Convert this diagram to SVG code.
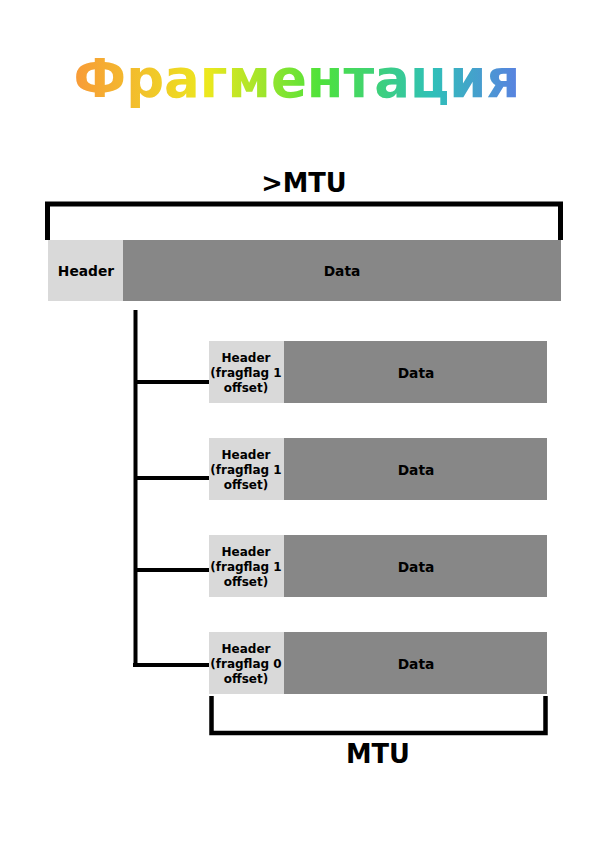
<svg xmlns="http://www.w3.org/2000/svg" width="595" height="842" viewBox="0 0 595 842">
<defs>
<linearGradient id="tg" x1="73" y1="0" x2="522" y2="0" gradientUnits="userSpaceOnUse">
<stop offset="0" stop-color="#f89a38"/>
<stop offset="0.3" stop-color="#ece81e"/>
<stop offset="0.55" stop-color="#4ee23a"/>
<stop offset="0.8" stop-color="#2fc0b8"/>
<stop offset="1" stop-color="#5b7fe2"/>
</linearGradient>
</defs>
<style>
text{font-family:"DejaVu Sans",Verdana,sans-serif;font-weight:bold;fill:#000;text-anchor:middle}
.h{fill:#d9d9d9}
.d{fill:#878787}
.lbl{font-size:13.8px}
.sm{font-size:12px}
.big{font-size:25.7px}
.ln{stroke:#000;stroke-width:5;fill:none}
</style>
<rect width="595" height="842" fill="#fff"/>
<text x="297" y="97" font-size="53" style="fill:url(#tg)">Фрагментация</text>
<g id="top-bracket">
<path class="ln" d="M47.5 240V204H560.5V240"/>
<text class="big" x="304" y="192">&gt;MTU</text>
</g>
<g id="packet">
<rect class="h" x="48" y="240" width="75" height="61"/>
<rect class="d" x="123" y="240" width="438" height="61"/>
<text class="lbl" x="86" y="276">Header</text>
<text class="lbl" x="342" y="276">Data</text>
</g>
<g id="connectors">
<path class="ln" d="M135.5 310V665M135.5 382H209M135.5 478H209M135.5 570H209M133 665H209" style="stroke-width:4"/>
</g>
<g id="frag1">
<rect class="h" x="209" y="341" width="75" height="62"/>
<rect class="d" x="284" y="341" width="263" height="62"/>
<text class="sm" x="246" y="362">Header</text>
<text class="sm" x="246" y="377">(fragflag 1</text>
<text class="sm" x="246" y="392">offset)</text>
<text class="lbl" x="416" y="378">Data</text>
</g>
<g id="frag2">
<rect class="h" x="209" y="438" width="75" height="62"/>
<rect class="d" x="284" y="438" width="263" height="62"/>
<text class="sm" x="246" y="459">Header</text>
<text class="sm" x="246" y="474">(fragflag 1</text>
<text class="sm" x="246" y="489">offset)</text>
<text class="lbl" x="416" y="475">Data</text>
</g>
<g id="frag3">
<rect class="h" x="209" y="535" width="75" height="62"/>
<rect class="d" x="284" y="535" width="263" height="62"/>
<text class="sm" x="246" y="556">Header</text>
<text class="sm" x="246" y="571">(fragflag 1</text>
<text class="sm" x="246" y="586">offset)</text>
<text class="lbl" x="416" y="572">Data</text>
</g>
<g id="frag4">
<rect class="h" x="209" y="632" width="75" height="62"/>
<rect class="d" x="284" y="632" width="263" height="62"/>
<text class="sm" x="246" y="653">Header</text>
<text class="sm" x="246" y="668">(fragflag 0</text>
<text class="sm" x="246" y="683">offset)</text>
<text class="lbl" x="416" y="669">Data</text>
</g>
<g id="bottom-bracket">
<path class="ln" d="M211.5 696V733H545.5V696" style="stroke-width:4.5"/>
<text class="big" x="378" y="763">MTU</text>
</g>
</svg>
